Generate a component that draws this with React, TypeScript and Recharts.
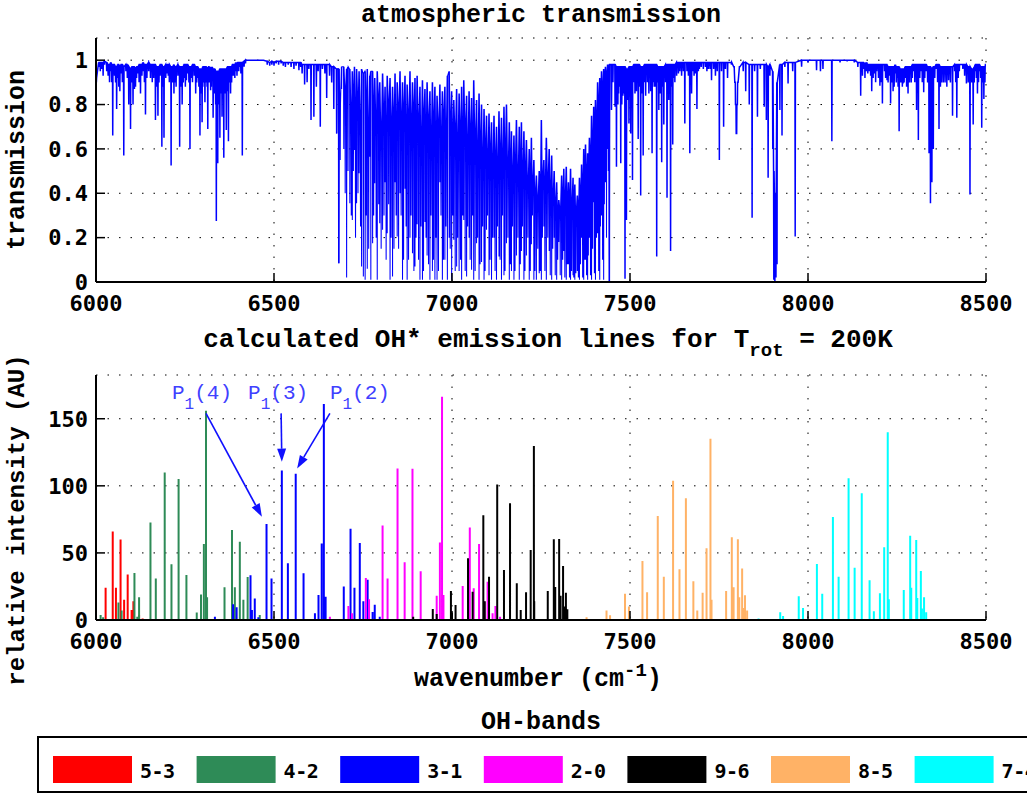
import React from 'react'
import { LineChart, Line, XAxis, YAxis, CartesianGrid, ReferenceLine } from 'recharts'

const LABEL_FONT = '"Liberation Mono", "Courier New", monospace'
const TICK_FONT = '"DejaVu Sans Mono", monospace'

const wnTicks = [6000, 6500, 7000, 7500, 8000, 8500]
const transTicks = [0, 0.2, 0.4, 0.6, 0.8, 1]
const intensityTicks = [0, 50, 100, 150]

// absorption features: [wavenumber, dip minimum, level around the dip]
const absLow = [
  [6001, 0.9, 0.92], [6008, 0.97, 0.99], [6016, 0.96, 0.99], [6024, 0.98, 0.995], [6030, 0.95, 0.99],
  [6038, 0.9, 0.98], [6042, 0.95, 0.99], [6047, 0.66, 0.98], [6052, 0.93, 0.98], [6058, 0.78, 0.97],
  [6064, 0.88, 0.98], [6070, 0.94, 0.98], [6078, 0.57, 0.97], [6084, 0.95, 0.98], [6092, 0.8, 0.97],
  [6097, 0.69, 0.96], [6104, 0.8, 0.97], [6111, 0.88, 0.96], [6118, 0.94, 0.97], [6125, 0.85, 0.98],
  [6132, 0.95, 0.99], [6139, 0.755, 0.98], [6148, 0.95, 0.99], [6153, 0.92, 0.98], [6158, 0.9, 0.98],
  [6167, 0.73, 0.98], [6174, 0.75, 0.97], [6180, 0.93, 0.98], [6185, 0.61, 0.98], [6191, 0.65, 0.97],
  [6196, 0.92, 0.98], [6200, 0.94, 0.98], [6206, 0.9, 0.98], [6211, 0.525, 0.97], [6219, 0.85, 0.98],
  [6225, 0.88, 0.97], [6230, 0.93, 0.98], [6235, 0.61, 0.97], [6242, 0.8, 0.97], [6247, 0.92, 0.98],
  [6251, 0.88, 0.98], [6258, 0.94, 0.98], [6264, 0.6, 0.97], [6271, 0.9, 0.98], [6276, 0.93, 0.98],
  [6280, 0.85, 0.97], [6286, 0.92, 0.97], [6292, 0.66, 0.96], [6298, 0.72, 0.96], [6302, 0.9, 0.97],
  [6306, 0.81, 0.97], [6310, 0.93, 0.97], [6314, 0.69, 0.96], [6318, 0.9, 0.97], [6322, 0.865, 0.97],
  [6326, 0.92, 0.97], [6329, 0.74, 0.96], [6334, 0.88, 0.96], [6338, 0.275, 0.95], [6342, 0.535, 0.95],
  [6345, 0.8, 0.95], [6348, 0.65, 0.96], [6351, 0.85, 0.96], [6354, 0.745, 0.96], [6359, 0.56, 0.96],
  [6362, 0.85, 0.96], [6366, 0.685, 0.96], [6369, 0.86, 0.97], [6372, 0.635, 0.97], [6378, 0.85, 0.97],
  [6383, 0.93, 0.98], [6387, 0.93, 0.98], [6393, 0.95, 0.99], [6398, 0.95, 0.99], [6404, 0.97, 0.99],
  [6411, 0.57, 0.99], [6416, 0.97, 0.995], [6420, 0.985, 1.0], [6450, 1.0, 1.0], [6470, 1.0, 1.0],
  [6481, 0.98, 0.995], [6488, 0.975, 0.99], [6494, 0.98, 0.995], [6500, 0.975, 0.99], [6506, 0.985, 0.995],
  [6513, 0.98, 0.995], [6520, 0.985, 0.995], [6526, 0.975, 0.99], [6532, 0.97, 0.99], [6540, 0.98, 0.99],
  [6548, 0.97, 0.99], [6556, 0.96, 0.99], [6562, 0.975, 0.99], [6570, 0.955, 0.99], [6575, 0.97, 0.99],
  [6579, 0.94, 0.98], [6586, 0.89, 0.98], [6593, 0.9, 0.98], [6598, 0.96, 0.98], [6604, 0.73, 0.98],
  [6612, 0.745, 0.98], [6619, 0.88, 0.98], [6624, 0.95, 0.98], [6630, 0.7, 0.98], [6636, 0.96, 0.98],
  [6643, 0.94, 0.98], [6648, 0.83, 0.98], [6656, 0.93, 0.98], [6662, 0.9, 0.97], [6668, 0.78, 0.97],
  [6676, 0.67, 0.96],
]

// weaker lines between the ones above
const absLowWeak = [
  [6012, 0.95, 0.99], [6020, 0.93, 0.99], [6034, 0.93, 0.98], [6044, 0.9, 0.98], [6055, 0.9, 0.97],
  [6061, 0.92, 0.98], [6067, 0.86, 0.97], [6074, 0.9, 0.98], [6088, 0.92, 0.98], [6101, 0.9, 0.97],
  [6108, 0.87, 0.97], [6114, 0.92, 0.97], [6121, 0.9, 0.98], [6129, 0.93, 0.98], [6136, 0.9, 0.98],
  [6143, 0.92, 0.98], [6162, 0.92, 0.98], [6170, 0.88, 0.97], [6177, 0.9, 0.97], [6188, 0.88, 0.97],
  [6203, 0.93, 0.98], [6215, 0.9, 0.97], [6222, 0.9, 0.97], [6238, 0.88, 0.97], [6245, 0.9, 0.97],
  [6254, 0.91, 0.98], [6261, 0.9, 0.97], [6268, 0.92, 0.97], [6283, 0.9, 0.97], [6289, 0.88, 0.96],
  [6295, 0.85, 0.96], [6300, 0.88, 0.97], [6308, 0.9, 0.97], [6312, 0.88, 0.96], [6316, 0.92, 0.97],
  [6320, 0.9, 0.96], [6324, 0.88, 0.96], [6332, 0.85, 0.96], [6336, 0.8, 0.95], [6340, 0.82, 0.95],
  [6356, 0.88, 0.96], [6364, 0.85, 0.96], [6375, 0.9, 0.97], [6381, 0.9, 0.97], [6390, 0.92, 0.98],
  [6396, 0.93, 0.98], [6401, 0.95, 0.99], [6407, 0.94, 0.99],
]

const absBand = [
  [6682, 0.085, 0.96], [6690, 0.87, 0.97], [6696, 0.6, 0.97], [6704, 0.02, 0.96], [6708, 0.5, 0.97],
  [6713, 0.355, 0.96], [6720, 0.28, 0.95], [6726, 0.595, 0.97], [6732, 0.355, 0.96], [6739, 0.49, 0.95],
  [6746, 0.07, 0.96], [6751, 0.025, 0.94], [6756, 0.01, 0.95], [6762, 0.06, 0.96], [6769, 0.565, 0.93],
  [6772, 0.01, 0.95], [6777, 0.175, 0.95], [6783, 0.445, 0.92], [6790, 0.01, 0.95], [6797, 0.265, 0.9],
  [6805, 0.235, 0.94], [6812, 0.45, 0.88], [6818, 0.22, 0.93], [6826, 0.01, 0.92], [6833, 0.025, 0.88],
  [6840, 0.45, 0.94], [6846, 0.205, 0.9], [6854, 0.4, 0.95], [6861, 0.01, 0.9], [6868, 0.42, 0.93],
  [6874, 0.01, 0.89], [6882, 0.2, 0.95], [6889, 0.13, 0.9], [6896, 0.07, 0.92], [6902, 0.26, 0.93],
  [6910, 0.01, 0.88], [6917, 0.01, 0.91], [6924, 0.27, 0.87], [6930, 0.12, 0.9], [6938, 0.01, 0.86],
  [6945, 0.05, 0.9], [6952, 0.01, 0.88], [6958, 0.01, 0.84], [6966, 0.45, 0.89], [6973, 0.01, 0.86],
  [6980, 0.1, 0.88], [6987, 0.01, 0.93], [6992, 0.2, 0.95], [6999, 0.01, 0.86], [7005, 0.19, 0.82],
  [7013, 0.07, 0.87], [7020, 0.05, 0.85], [7027, 0.01, 0.88], [7033, 0.28, 0.91], [7041, 0.025, 0.84],
  [7048, 0.2, 0.86], [7055, 0.055, 0.83], [7061, 0.01, 0.91], [7069, 0.175, 0.82], [7076, 0.01, 0.85],
  [7083, 0.09, 0.8], [7090, 0.01, 0.78], [7097, 0.235, 0.75], [7104, 0.03, 0.76], [7111, 0.01, 0.72],
  [7118, 0.2, 0.75], [7125, 0.01, 0.7], [7132, 0.115, 0.77], [7139, 0.01, 0.74], [7146, 0.03, 0.79],
  [7153, 0.175, 0.8], [7161, 0.01, 0.72], [7167, 0.05, 0.68], [7174, 0.01, 0.66], [7181, 0.12, 0.73],
  [7189, 0.01, 0.7], [7195, 0.14, 0.72], [7202, 0.01, 0.68], [7209, 0.12, 0.64], [7217, 0.01, 0.6],
  [7223, 0.17, 0.65], [7230, 0.01, 0.55], [7237, 0.01, 0.48], [7245, 0.04, 0.5], [7251, 0.01, 0.73],
  [7258, 0.25, 0.55], [7265, 0.01, 0.65], [7273, 0.14, 0.6], [7280, 0.01, 0.57], [7287, 0.2, 0.5],
  [7294, 0.01, 0.45], [7300, 0.18, 0.37], [7308, 0.01, 0.48], [7314, 0.14, 0.51], [7321, 0.01, 0.52],
  [7327, 0.08, 0.45], [7333, 0.01, 0.51], [7340, 0.03, 0.47], [7345, 0.01, 0.44], [7352, 0.05, 0.39],
  [7358, 0.01, 0.47], [7364, 0.2, 0.53], [7370, 0.01, 0.6], [7375, 0.1, 0.62], [7381, 0.01, 0.58],
  [7386, 0.2, 0.65], [7392, 0.01, 0.75], [7398, 0.36, 0.79], [7403, 0.01, 0.82], [7409, 0.22, 0.9],
  [7415, 0.01, 0.92], [7420, 0.3, 0.95], [7426, 0.01, 0.96], [7431, 0.45, 0.97], [7437, 0.6, 0.98],
  [7442, 0.005, 0.98],
]

const absBandWeak = [
  [6686, 0.55, 0.8], [6700, 0.4, 0.85], [6717, 0.3, 0.72], [6723, 0.5, 0.82], [6729, 0.2, 0.7],
  [6736, 0.4, 0.8], [6743, 0.25, 0.66], [6759, 0.3, 0.78], [6766, 0.15, 0.62], [6780, 0.3, 0.75],
  [6787, 0.2, 0.68], [6794, 0.35, 0.8], [6801, 0.15, 0.64], [6809, 0.3, 0.74], [6815, 0.1, 0.6],
  [6822, 0.35, 0.78], [6829, 0.2, 0.66], [6837, 0.15, 0.72], [6843, 0.3, 0.62], [6850, 0.15, 0.76],
  [6857, 0.3, 0.68], [6864, 0.1, 0.74], [6871, 0.25, 0.6], [6878, 0.1, 0.72], [6885, 0.3, 0.66],
  [6893, 0.05, 0.75], [6899, 0.2, 0.62], [6906, 0.1, 0.7], [6913, 0.25, 0.58], [6920, 0.05, 0.72],
  [6927, 0.2, 0.62], [6934, 0.08, 0.7], [6941, 0.3, 0.6], [6948, 0.1, 0.7], [6955, 0.2, 0.58],
  [6962, 0.05, 0.68], [6969, 0.3, 0.6], [6976, 0.1, 0.72], [6983, 0.25, 0.62], [6995, 0.15, 0.7],
  [7002, 0.3, 0.6], [7009, 0.05, 0.66], [7016, 0.2, 0.56], [7024, 0.1, 0.65], [7030, 0.3, 0.6],
  [7037, 0.05, 0.68], [7044, 0.25, 0.55], [7051, 0.1, 0.64], [7058, 0.3, 0.58], [7065, 0.05, 0.62],
  [7072, 0.2, 0.52], [7079, 0.08, 0.6], [7086, 0.25, 0.5], [7093, 0.05, 0.58], [7100, 0.3, 0.5],
  [7107, 0.1, 0.56], [7114, 0.2, 0.48], [7121, 0.05, 0.52], [7128, 0.25, 0.46], [7135, 0.1, 0.55],
  [7142, 0.3, 0.5], [7149, 0.05, 0.56], [7157, 0.2, 0.48], [7164, 0.08, 0.5], [7170, 0.25, 0.44],
  [7177, 0.05, 0.5], [7185, 0.2, 0.45], [7192, 0.08, 0.5], [7198, 0.25, 0.46], [7205, 0.05, 0.48],
  [7213, 0.2, 0.42], [7220, 0.05, 0.45], [7226, 0.3, 0.42], [7233, 0.05, 0.38], [7241, 0.15, 0.35],
  [7248, 0.05, 0.42], [7254, 0.2, 0.45], [7261, 0.05, 0.4], [7269, 0.2, 0.44], [7276, 0.03, 0.38],
  [7283, 0.15, 0.36], [7290, 0.03, 0.33], [7297, 0.1, 0.3], [7304, 0.03, 0.32], [7311, 0.1, 0.36],
  [7317, 0.02, 0.35], [7324, 0.08, 0.34], [7330, 0.02, 0.36], [7336, 0.05, 0.32], [7342, 0.02, 0.33],
  [7348, 0.04, 0.3], [7355, 0.02, 0.32], [7361, 0.08, 0.38], [7367, 0.02, 0.42], [7372, 0.1, 0.45],
  [7378, 0.03, 0.46], [7383, 0.12, 0.5], [7389, 0.03, 0.55], [7395, 0.15, 0.6], [7400, 0.04, 0.65],
  [7406, 0.2, 0.7], [7412, 0.05, 0.78], [7417, 0.25, 0.82], [7423, 0.1, 0.86], [7428, 0.35, 0.9],
  [7434, 0.2, 0.93], [7439, 0.5, 0.96],
]

const absHigh = [
  [7448, 0.775, 0.98], [7458, 0.79, 0.98], [7462, 0.52, 0.97], [7468, 0.85, 0.97], [7474, 0.535, 0.97],
  [7480, 0.84, 0.97], [7486, 0.015, 0.97], [7490, 0.28, 0.96], [7497, 0.715, 0.97], [7502, 0.67, 0.97],
  [7507, 0.46, 0.97], [7514, 0.85, 0.98], [7523, 0.645, 0.98], [7530, 0.39, 0.97], [7537, 0.57, 0.97],
  [7544, 0.84, 0.98], [7553, 0.85, 0.98], [7562, 0.58, 0.98], [7568, 0.88, 0.98], [7575, 0.115, 0.98],
  [7581, 0.775, 0.97], [7589, 0.54, 0.97], [7595, 0.71, 0.97], [7604, 0.38, 0.98], [7609, 0.82, 0.98],
  [7614, 0.14, 0.98], [7620, 0.62, 0.98], [7626, 0.9, 0.98], [7631, 0.93, 0.99], [7640, 0.95, 0.99],
  [7654, 0.715, 0.99], [7660, 0.95, 0.99], [7668, 0.58, 0.99], [7673, 0.85, 0.99], [7680, 0.93, 0.99],
  [7688, 0.78, 0.99], [7695, 0.96, 0.99], [7712, 0.97, 0.99], [7720, 0.96, 0.99], [7729, 0.91, 0.99],
  [7740, 0.93, 0.99], [7751, 0.55, 0.99], [7763, 0.7, 0.99], [7774, 0.92, 0.99], [7785, 0.98, 0.99],
  [7792, 0.97, 0.97], [7795, 0.9, 0.9], [7797, 0.8, 0.8], [7799, 0.67, 0.67], [7801, 0.8, 0.8],
  [7803, 0.9, 0.9], [7808, 0.97, 0.97], [7818, 0.95, 0.99], [7825, 0.86, 0.99], [7835, 0.8, 0.98],
  [7843, 0.29, 0.98], [7850, 0.95, 0.98], [7858, 0.745, 0.98], [7866, 0.96, 0.98], [7877, 0.79, 0.98],
  [7883, 0.73, 0.98], [7888, 0.47, 0.97], [7893, 0.93, 0.98], [7901, 0.6, 0.95], [7904, 0.01, 0.5],
  [7907, 0.005, 0.3], [7910, 0.02, 0.4], [7913, 0.08, 0.9], [7921, 0.775, 0.98], [7927, 0.66, 0.98],
  [7935, 0.97, 0.99], [7944, 0.895, 0.99], [7957, 0.95, 0.99], [7964, 0.205, 0.99], [7982, 0.97, 1.0],
  [8000, 0.99, 1.0], [8024, 0.955, 1.0], [8035, 0.95, 1.0], [8042, 0.96, 1.0], [8067, 0.635, 1.0],
  [8090, 0.99, 1.0], [8110, 0.995, 1.0], [8130, 0.99, 1.0], [8140, 0.97, 0.99], [8148, 0.84, 0.99],
  [8156, 0.96, 0.99], [8164, 0.95, 0.99], [8172, 0.95, 0.98], [8179, 0.86, 0.98], [8186, 0.94, 0.98],
  [8193, 0.95, 0.98], [8202, 0.885, 0.98], [8209, 0.805, 0.98], [8215, 0.95, 0.98], [8222, 0.91, 0.98],
  [8228, 0.93, 0.97], [8232, 0.805, 0.97], [8239, 0.86, 0.97], [8245, 0.94, 0.98], [8250, 0.92, 0.97],
  [8256, 0.68, 0.97], [8262, 0.9, 0.96], [8267, 0.895, 0.96], [8273, 0.92, 0.97], [8281, 0.85, 0.97],
  [8290, 0.9, 0.97], [8296, 0.95, 0.98], [8305, 0.775, 0.98], [8310, 0.64, 0.98], [8318, 0.95, 0.98],
  [8325, 0.855, 0.98], [8332, 0.95, 0.98], [8340, 0.58, 0.97], [8344, 0.355, 0.97], [8348, 0.45, 0.96],
  [8352, 0.6, 0.97], [8360, 0.96, 0.98], [8368, 0.69, 0.98], [8375, 0.9, 0.97], [8385, 0.9, 0.97],
  [8395, 0.91, 0.97], [8406, 0.75, 0.97], [8412, 0.95, 0.98], [8418, 0.74, 0.98], [8425, 0.95, 0.98],
  [8435, 0.96, 0.98], [8445, 0.895, 0.98], [8455, 0.395, 0.97], [8464, 0.71, 0.96], [8470, 0.95, 0.98],
  [8476, 0.85, 0.98], [8482, 0.95, 0.98], [8488, 0.695, 0.97], [8494, 0.825, 0.97], [8499, 0.98, 0.98],
]

const absHighWeak = [
  [7452, 0.9, 0.98], [7466, 0.8, 0.97], [7471, 0.88, 0.97], [7477, 0.8, 0.97], [7483, 0.85, 0.97],
  [7494, 0.82, 0.96], [7500, 0.85, 0.97], [7505, 0.8, 0.97], [7511, 0.9, 0.98], [7518, 0.86, 0.98],
  [7526, 0.88, 0.98], [7534, 0.85, 0.97], [7541, 0.9, 0.98], [7549, 0.9, 0.98], [7558, 0.86, 0.98],
  [7565, 0.9, 0.98], [7572, 0.88, 0.98], [7578, 0.9, 0.97], [7585, 0.85, 0.97], [7592, 0.88, 0.97],
  [7600, 0.9, 0.98], [7606, 0.85, 0.98], [7617, 0.88, 0.98], [7623, 0.92, 0.98], [7636, 0.94, 0.99],
  [7645, 0.93, 0.99], [7650, 0.95, 0.99], [7664, 0.93, 0.99], [7677, 0.95, 0.99], [7684, 0.94, 0.99],
  [7692, 0.95, 0.99], [7700, 0.97, 0.99], [7706, 0.96, 0.99], [7716, 0.95, 0.99], [7725, 0.96, 0.99],
  [7735, 0.96, 0.99], [7745, 0.95, 0.99], [7757, 0.95, 0.99], [7768, 0.96, 0.99],
  [8153, 0.93, 0.99], [8160, 0.92, 0.98], [8168, 0.94, 0.98], [8176, 0.93, 0.98], [8183, 0.92, 0.98],
  [8190, 0.9, 0.98], [8198, 0.92, 0.98], [8206, 0.9, 0.98], [8218, 0.92, 0.98], [8225, 0.9, 0.97],
  [8236, 0.9, 0.97], [8242, 0.88, 0.97], [8248, 0.9, 0.97], [8253, 0.88, 0.97], [8259, 0.9, 0.96],
  [8265, 0.88, 0.96], [8270, 0.9, 0.96], [8277, 0.88, 0.97], [8285, 0.9, 0.97], [8293, 0.92, 0.98],
  [8300, 0.9, 0.98], [8314, 0.92, 0.98], [8321, 0.9, 0.98], [8328, 0.92, 0.98], [8336, 0.9, 0.97],
  [8356, 0.92, 0.97], [8364, 0.9, 0.98], [8372, 0.88, 0.97], [8380, 0.9, 0.97], [8390, 0.88, 0.97],
  [8400, 0.9, 0.97], [8415, 0.9, 0.98], [8422, 0.92, 0.98], [8440, 0.93, 0.98], [8450, 0.9, 0.97],
  [8460, 0.9, 0.96], [8467, 0.9, 0.97], [8473, 0.92, 0.98], [8479, 0.9, 0.98], [8485, 0.92, 0.97],
  [8491, 0.9, 0.97], [8497, 0.9, 0.97],
]

// OH emission lines per band: [wavenumber, relative intensity]
const band53 = [
  [6027, 24], [6047, 66], [6056, 24], [6069, 60], [6079, 15], [6089, 34], [6100, 7.5], [6105, 14],
  [6121, 3.7], [6131, 1.2],
]
const band42 = [
  [6013, 3.7], [6020, 2], [6063, 13], [6072, 7], [6108, 35], [6116, 2.5], [6121, 17], [6153, 72.6],
  [6168, 31], [6193, 110], [6212, 41.5], [6232, 105], [6254, 33.6], [6283, 5.5], [6295, 19], [6303, 56.7],
  [6309, 156], [6312, 17], [6361, 24.4], [6382, 67], [6390, 24.4], [6404, 58.4], [6414, 15], [6426, 32],
  [6460, 3.7],
]
const band31 = [
  [6334, 2.5], [6385, 11.7], [6395, 9.5], [6434, 33.3], [6438, 7.5], [6446, 16], [6456, 2], [6479, 71.6],
  [6493, 31], [6522, 111.4], [6539, 42.3], [6561, 109], [6583, 34.8], [6615, 5], [6625, 18.7], [6634, 57],
  [6640, 161], [6645, 17.4], [6696, 25], [6715, 68], [6726, 24], [6741, 57.4], [6751, 14], [6763, 30],
  [6777, 6], [6783, 11.4], [6797, 2.5],
]
const band20 = [
  [6657, 2.5], [6709, 10.4], [6719, 5], [6758, 31.3], [6767, 15.4], [6805, 70.4], [6819, 31], [6847, 113],
  [6867, 43], [6889, 112.7], [6912, 36.3], [6957, 18], [6966, 57.7], [6972, 166.4], [6976, 18.6],
  [7030, 25.4], [7050, 69], [7061, 23.6], [7076, 56.7], [7091, 13.7], [7100, 28.6], [7114, 5], [7122, 10.4],
  [7135, 2.5],
]
const band96 = [
  [6891, 2.5], [6946, 8.2], [6957, 4.5], [6997, 21.6], [7000, 5.5], [7010, 11.2], [7045, 46], [7058, 21],
  [7088, 78], [7092, 14], [7104, 32.3], [7127, 101], [7146, 37.3], [7163, 87], [7182, 27.4], [7193, 7.5],
  [7208, 20.6], [7221, 52.2], [7230, 129.6], [7231, 14], [7269, 21.6], [7286, 60.2], [7290, 24.6],
  [7301, 60.4], [7305, 18], [7312, 40.3], [7316, 10], [7320, 20.4], [7324, 8],
]
const band85 = [
  [7378, 2], [7434, 7], [7444, 3.5], [7486, 19.6], [7497, 10], [7535, 44], [7548, 20.6], [7578, 77.6],
  [7595, 32.3], [7621, 103.7], [7639, 37.8], [7657, 90.8], [7678, 28.8], [7689, 7], [7704, 20.4],
  [7715, 53.5], [7726, 135], [7729, 15], [7770, 21.6], [7786, 61.7], [7791, 24.4], [7803, 60.2], [7807, 17],
  [7815, 38.3], [7820, 9], [7823, 18.4], [7829, 7],
]
const band74 = [
  [7861, 1.2], [7922, 5.7], [7930, 3], [7974, 17.7], [7986, 9], [8025, 41.8], [8040, 19.6], [8070, 76.8],
  [8086, 32.3], [8114, 105.7], [8131, 39], [8151, 94.5], [8173, 29.6], [8185, 6.5], [8202, 20], [8214, 54.2],
  [8224, 140], [8227, 15.4], [8269, 22.4], [8287, 62.7], [8290, 24], [8304, 59.7], [8307, 16.4],
  [8317, 36.6], [8320, 8.5], [8326, 17], [8332, 5.7],
]

const bands = [
  { name: '5-3', color: '#ff0000', lines: band53 },
  { name: '4-2', color: '#2e8b57', lines: band42 },
  { name: '3-1', color: '#0000ff', lines: band31 },
  { name: '2-0', color: '#ff00ff', lines: band20 },
  { name: '9-6', color: '#000000', lines: band96 },
  { name: '8-5', color: '#ffb266', lines: band85 },
  { name: '7-4', color: '#00ffff', lines: band74 },
]

// P1(N) markers: label, arrow start and arrow tip in data units
const pLabels = ['4', '3', '2']
const pFrom = [[6309, 154], [6520, 154], [6657, 154]]
const pTo = [[6466, 77], [6522, 118], [6565, 113]]
const pTextShift = [-34, -33, 0]

const toPath = (dips: number[][]) =>
  [...dips]
    .sort((a, b) => a[0] - b[0])
    .flatMap(([wn, lo, hi]) => [
      { x: wn - 0.7, y: hi },
      { x: wn, y: lo },
      { x: wn + 0.7, y: hi },
    ])

// the dense water band is drawn with a finer pen so the single lines stay apart
const transLow = toPath([...absLow, ...absLowWeak, absBand[0]])
const transBand = toPath([absLow[absLow.length - 1], ...absBand, ...absBandWeak, absHigh[0]])
const transHigh = toPath([absBand[absBand.length - 1], ...absHigh, ...absHighWeak])

const stems = (lines: number[][]) =>
  lines.flatMap(([wn, v]) => [
    { x: wn, y: 0 },
    { x: wn, y: v },
    { x: wn, y: 0 },
  ])

const axisLine = { stroke: '#000', strokeWidth: 2 }
const tickLine = { stroke: '#000', strokeWidth: 1.5 }
const tickStyle = { fontFamily: TICK_FONT, fontSize: 22, fontWeight: 700, fill: '#000' }

function Arrow(props: any, i: number) {
  const { x1, y1, x2, y2 } = props
  const ang = Math.atan2(y2 - y1, x2 - x1)
  const len = 13
  const half = 4.5
  const bx = x2 - len * Math.cos(ang)
  const by = y2 - len * Math.sin(ang)
  const px = -Math.sin(ang) * half
  const py = Math.cos(ang) * half
  return (
    <g>
      <line x1={x1} y1={y1} x2={bx} y2={by} stroke="#1010ff" strokeWidth={1.6} />
      <polygon points={`${x2},${y2} ${bx + px},${by + py} ${bx - px},${by - py}`} fill="#1010ff" />
      <text x={x1 + pTextShift[i]} y={y1 - 14} fontFamily={LABEL_FONT} fontSize={21} fill="#4040ff">
        <tspan>P</tspan>
        <tspan dy={10} fontSize={16}>1</tspan>
        <tspan dy={-10}>({pLabels[i]})</tspan>
      </text>
    </g>
  )
}

function frame(domainX: number[], ticksY: number[], domainY: number[]) {
  return [
    <CartesianGrid key="g" stroke="#000" strokeDasharray="1.5 10" />,
    <XAxis
      key="xb"
      type="number"
      dataKey="x"
      domain={domainX}
      ticks={wnTicks}
      interval={0}
      allowDataOverflow
      height={30}
      tickSize={-9}
      tickMargin={22}
      axisLine={axisLine}
      tickLine={tickLine}
      tick={tickStyle}
    />,
    <XAxis
      key="xt"
      xAxisId="top"
      orientation="top"
      type="number"
      dataKey="x"
      domain={domainX}
      ticks={wnTicks}
      interval={0}
      allowDataOverflow
      height={0}
      tickSize={-9}
      axisLine={axisLine}
      tickLine={tickLine}
      tick={false}
    />,
    <YAxis
      key="yl"
      type="number"
      domain={domainY}
      ticks={ticksY}
      interval={0}
      allowDataOverflow
      width={60}
      tickSize={-9}
      tickMargin={17}
      axisLine={axisLine}
      tickLine={tickLine}
      tick={tickStyle}
    />,
    <YAxis
      key="yr"
      yAxisId="right"
      orientation="right"
      type="number"
      domain={domainY}
      ticks={ticksY}
      interval={0}
      allowDataOverflow
      width={0}
      tickSize={-9}
      axisLine={axisLine}
      tickLine={tickLine}
      tick={false}
    />,
  ]
}

export default function App() {
  const boldLabel = { fontFamily: LABEL_FONT, fontSize: 25, fontWeight: 700, fill: '#000' }
  const transSeries = [
    { key: 'low', data: transLow, width: 1.5 },
    { key: 'band', data: transBand, width: 1.05 },
    { key: 'high', data: transHigh, width: 1.5 },
  ]
  return (
    <div style={{ position: 'absolute', left: 0, top: 0, width: 1027, height: 793, background: '#fff' }}>
      <div style={{ position: 'absolute', left: 0, top: 0 }}>
        <LineChart width={1027} height={330} margin={{ top: 38, right: 41, bottom: 18, left: 36 }}>
          {frame([6000, 8500], transTicks, [0, 1.1])}
          {transSeries.map((s) => (
            <Line
              key={s.key}
              data={s.data}
              dataKey="y"
              type="linear"
              stroke="#0000ff"
              strokeWidth={s.width}
              dot={false}
              isAnimationActive={false}
            />
          ))}
        </LineChart>
      </div>
      <div style={{ position: 'absolute', left: 0, top: 330 }}>
        <LineChart width={1027} height={330} margin={{ top: 45, right: 41, bottom: 10, left: 36 }}>
          {frame([6000, 8500], intensityTicks, [0, 182.6])}
          {bands.map((b) => (
            <Line
              key={b.name}
              name={b.name}
              data={stems(b.lines)}
              dataKey="y"
              type="linear"
              stroke={b.color}
              strokeWidth={2}
              dot={false}
              isAnimationActive={false}
            />
          ))}
          {pFrom.map((f, i) => (
            <ReferenceLine
              key={i}
              segment={[{ x: f[0], y: f[1] }, { x: pTo[i][0], y: pTo[i][1] }]}
              ifOverflow="visible"
              shape={(p: any) => Arrow(p, i)}
            />
          ))}
        </LineChart>
      </div>
      <svg width={1027} height={793} style={{ position: 'absolute', left: 0, top: 0, pointerEvents: 'none' }}>
        <text x={541} y={22} textAnchor="middle" {...boldLabel}>
          atmospheric transmission
        </text>
        <text transform="translate(24,160) rotate(-90)" textAnchor="middle" {...boldLabel}>
          transmission
        </text>
        <text x={548} y={347} textAnchor="middle" {...boldLabel} fontSize={26}>
          calculated OH* emission lines for T
          <tspan dy={9} fontSize={19}>rot</tspan>
          <tspan dy={-9}> = 200K</tspan>
        </text>
        <text transform="translate(24,520) rotate(-90)" textAnchor="middle" {...boldLabel} fontSize={24}>
          relative intensity (AU)
        </text>
        <text x={538} y={686} textAnchor="middle" {...boldLabel}>
          wavenumber (cm
          <tspan dy={-10} fontSize={19}>-1</tspan>
          <tspan dy={10}>)</tspan>
        </text>
        <text x={541} y={729} textAnchor="middle" {...boldLabel}>
          OH-bands
        </text>
        <rect x={38} y={737} width={1000} height={55} fill="none" stroke="#000" strokeWidth={2} />
        {bands.map((b, i) => (
          <g key={b.name}>
            <rect x={53 + i * 143.6} y={756} width={79} height={27} fill={b.color} />
            <text
              x={140 + i * 143.6}
              y={778}
              fontFamily={TICK_FONT}
              fontSize={20}
              fontWeight={700}
              letterSpacing={-0.5}
              fill="#000"
            >
              {b.name}
            </text>
          </g>
        ))}
      </svg>
    </div>
  )
}
